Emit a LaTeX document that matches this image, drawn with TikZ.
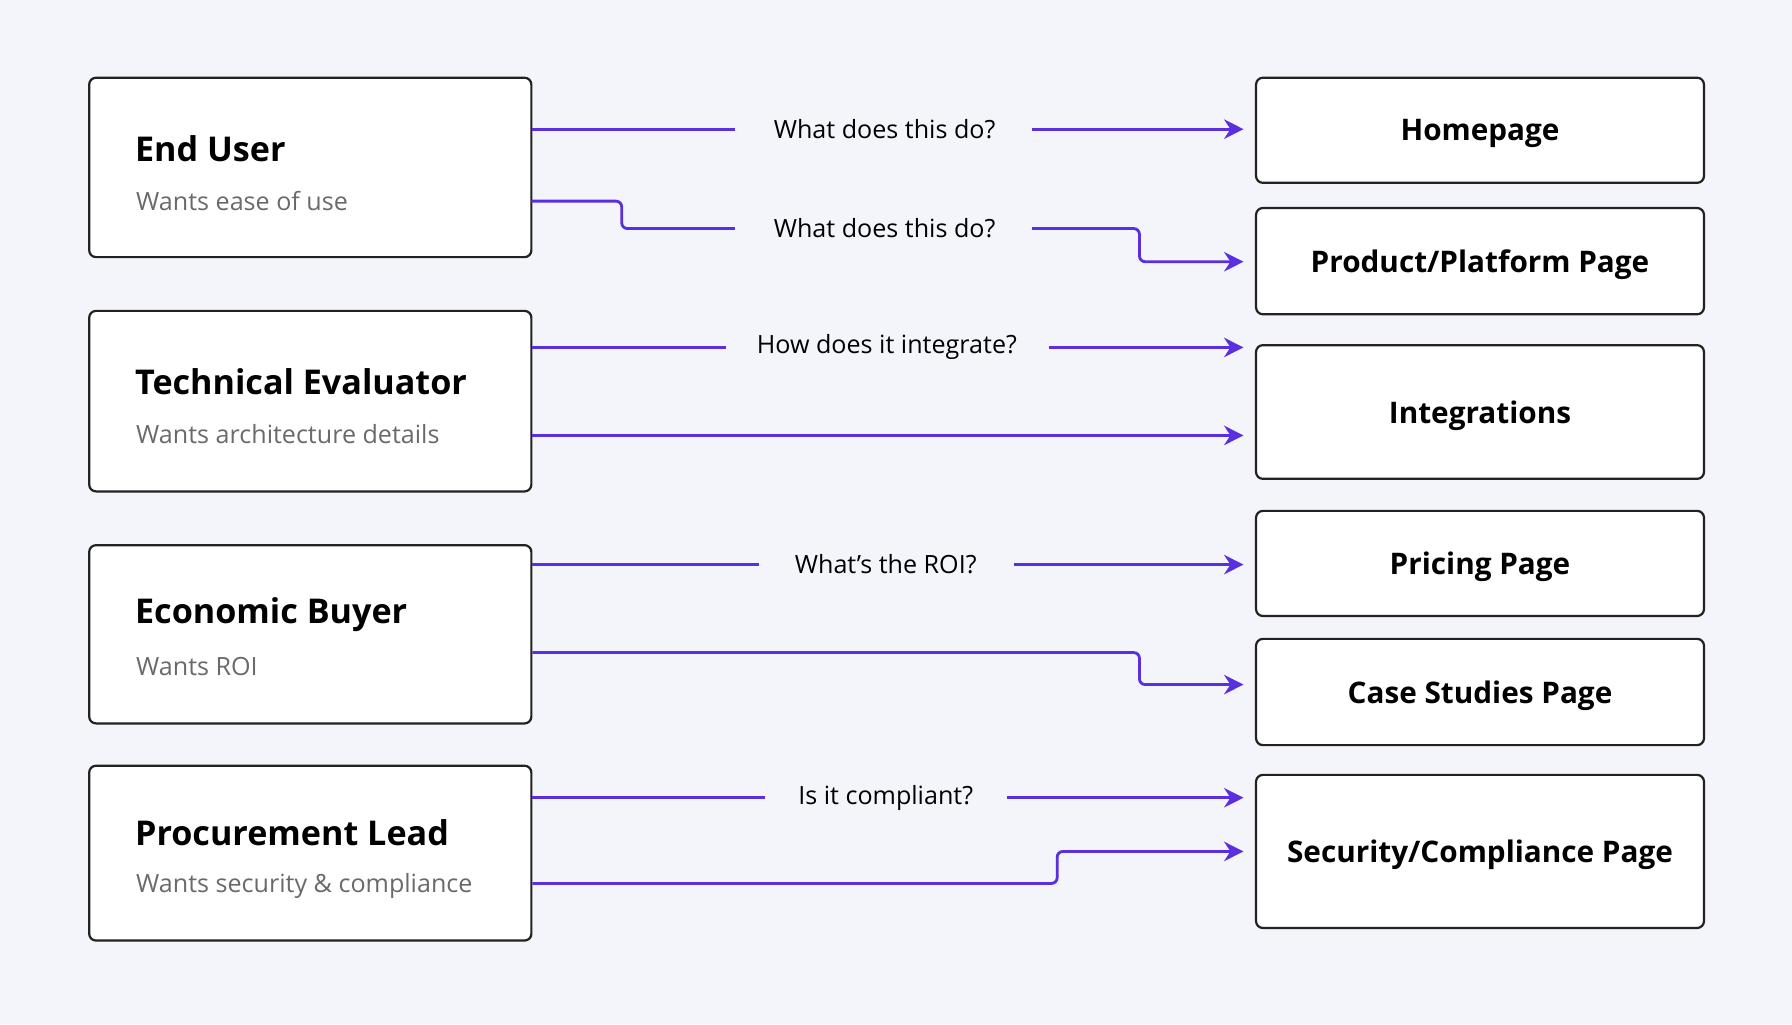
\documentclass[tikz,border=0pt]{standalone}
\usepackage{fontspec}
\setmainfont{Open Sans}
\usetikzlibrary{arrows.meta}
\definecolor{bg}{HTML}{F4F5FB}
\definecolor{conncol}{HTML}{5A2FE0}
\definecolor{sub}{HTML}{6A6A6A}
\definecolor{edge}{HTML}{222222}
\begin{document}
\begin{tikzpicture}[x=0.02cm,y=-0.02cm,
  box/.style={draw=edge,line width=1.1pt,fill=white,rounded corners=0.12cm,inner sep=0pt},
  ttl/.style={anchor=west,font=\fontsize{17}{20}\selectfont\bfseries,text=black},
  subt/.style={anchor=west,font=\fontsize{12.5}{15}\selectfont,text=sub},
  rt/.style={font=\fontsize{14.8}{18}\selectfont\bfseries,text depth=0pt},
  q/.style={font=\fontsize{12.5}{15}\selectfont,inner xsep=0cm},
  conn/.style={draw=conncol,line width=1.4pt,rounded corners=0.1cm},
  arr/.style={conn,-{Stealth[length=0.34cm,width=0.34cm]},shorten >=0.2cm}]
\fill[bg] (0,0) rectangle (1568,896);
\useasboundingbox (0,0) rectangle (1568,896);
% left boxes
\node[box,minimum width=7.74cm,minimum height=3.14cm] (eu) at (271.5,146.5) {};
\node[box,minimum width=7.74cm,minimum height=3.16cm] (te) at (271.5,351) {};
\node[box,minimum width=7.74cm,minimum height=3.12cm] (eb) at (271.5,555) {};
\node[box,minimum width=7.74cm,minimum height=3.06cm] (pl) at (271.5,746.5) {};
\node[ttl] (eut) at (112,130) {End User};
\node[subt] (eus) at (113,176) {Wants ease of use};
\node[ttl] (tet) at (112,334) {Technical Evaluator};
\node[subt] (tes) at (113,380) {Wants architecture details};
\node[ttl] (ebt) at (112,538) {Economic Buyer};
\node[subt] (ebs) at (113,583) {Wants ROI};
\node[ttl] (plt) at (112,729) {Procurement Lead};
\node[subt] (pls) at (113,775) {Wants security \& compliance};
% right boxes
\node[box,minimum width=7.84cm,minimum height=1.84cm,rt] (hp) at (1295,114) {Homepage};
\node[box,minimum width=7.84cm,minimum height=1.86cm,rt] (pp) at (1295,228.5) {Product/Platform Page};
\node[box,minimum width=7.84cm,minimum height=2.34cm,rt] (ip) at (1295,360.5) {Integrations};
\node[box,minimum width=7.84cm,minimum height=1.84cm,rt] (pr) at (1295,493) {Pricing Page};
\node[box,minimum width=7.84cm,minimum height=1.86cm,rt] (cs) at (1295,605.5) {Case Studies Page};
\node[box,minimum width=7.84cm,minimum height=2.68cm,rt] (sc) at (1295,745) {Security/Compliance Page};
% labels
\node[q] (q1) at (774,113) {What does this do?};
\node[q] (q2) at (774,200) {What does this do?};
\node[q] (q3) at (776,304) {How does it integrate?};
\node[q] (q4) at (775,494) {What’s the ROI?};
\node[q] (q5) at (775,698) {Is it compliant?};
% connectors
\draw[conn] (eu.east|-q1) -- (643,113) coordinate (a1);
\draw[arr] (903,113) coordinate (b1) -- (hp.west|-q1);
\draw[conn] (465,176) coordinate (a2) -- (544,176) -- (544,200) -- (643,200);
\draw[arr] (903,200) coordinate (b2) -- (997,200) -- (997,229) -- (pp.west|-0,229);
\draw[conn] (te.east|-q3) -- (635,304) coordinate (a3);
\draw[arr] (918,304) coordinate (b3) -- (ip.west|-q3);
\draw[arr] (te.east|-0,381) -- (ip.west|-0,381);
\draw[conn] (eb.east|-q4) -- (664,494) coordinate (a4);
\draw[arr] (887,494) coordinate (b4) -- (pr.west|-q4);
\draw[arr] (eb.east|-0,571) -- (997,571) -- (997,599) -- (cs.west|-0,599);
\draw[conn] (pl.east|-q5) -- (669,698) coordinate (a5);
\draw[arr] (881,698) coordinate (b5) -- (sc.west|-q5);
\draw[arr] (pl.east|-0,773) -- (925,773) -- (925,745) -- (sc.west|-0,745);
\end{tikzpicture}
\end{document}
